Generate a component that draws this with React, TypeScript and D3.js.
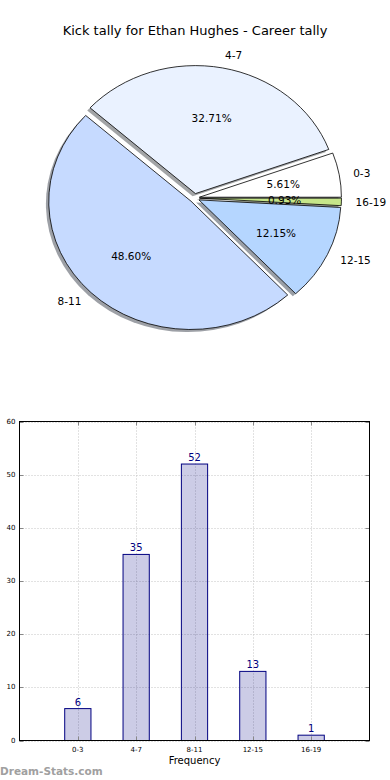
import React, { useRef, useEffect } from 'react';
import * as d3 from 'd3';

const title = 'Kick tally for Ethan Hughes - Career tally';
const categories = ['0-3', '4-7', '8-11', '12-15', '16-19'];
const counts = [6, 35, 52, 13, 1];
const sliceColors = ['#ffffff', '#eaf2ff', '#c6daff', '#b5d6ff', '#c6e68a'];
const yTicks = [0, 10, 20, 30, 40, 50, 60];

const FONT = '"DejaVu Sans", Verdana, sans-serif';

const App = () => {
    const ref = useRef<SVGSVGElement>(null);

    useEffect(() => {
        const svg = d3.select(ref.current);
        svg.selectAll('*').remove();

        svg.append('text')
            .attr('x', 195).attr('y', 35)
            .attr('text-anchor', 'middle')
            .style('font-family', FONT).style('font-size', '13px')
            .text(title);

        // ---- pie (elliptical, like matplotlib without axis equal)
        const cx = 194.5, cy = 198, rx = 142, ry = 128;
        const explode = 0.035;
        const total = d3.sum(counts);
        const pie = d3.pie<number>().sort(null).startAngle(Math.PI / 2).endAngle(Math.PI / 2 - 2 * Math.PI);
        const slices = pie(counts);
        const arc = d3.arc<any>().innerRadius(0).outerRadius(1);
        const mid = (s: any) => (s.startAngle + s.endAngle) / 2;

        const pieG = svg.append('g').attr('transform', `translate(${cx},${cy}) scale(${rx},${ry})`);
        // shadows first (below all wedges)
        pieG.selectAll('path.shadow')
            .data(slices)
            .join('path')
            .attr('class', 'shadow')
            .attr('transform', d => `translate(${explode * Math.sin(mid(d)) - 0.02},${-explode * Math.cos(mid(d)) + 0.02})`)
            .attr('d', arc)
            .attr('fill', (d, i) => {
                const c = d3.rgb(sliceColors[i]);
                return d3.rgb(c.r * 0.3, c.g * 0.3, c.b * 0.3).toString();
            })
            .attr('fill-opacity', 0.5);
        pieG.selectAll('path.wedge')
            .data(slices)
            .join('path')
            .attr('class', 'wedge')
            .attr('transform', d => `translate(${explode * Math.sin(mid(d))},${-explode * Math.cos(mid(d))})`)
            .attr('d', arc)
            .attr('fill', (d, i) => sliceColors[i])
            .attr('stroke', '#000')
            .attr('stroke-width', 0.8)
            .attr('vector-effect', 'non-scaling-stroke');

        svg.append('g').selectAll('text')
            .data(slices)
            .join('text')
            .attr('x', d => cx + rx * (explode + 1.1) * Math.sin(mid(d)))
            .attr('y', d => cy - ry * (explode + 1.1) * Math.cos(mid(d)))
            .attr('text-anchor', d => Math.sin(mid(d)) > 0 ? 'start' : 'end')
            .attr('dominant-baseline', 'central')
            .style('font-family', FONT).style('font-size', '10.5px')
            .text((d, i) => categories[i]);

        svg.append('g').selectAll('text')
            .data(slices)
            .join('text')
            .attr('x', d => cx + rx * (explode + 0.6) * Math.sin(mid(d)))
            .attr('y', d => cy - ry * (explode + 0.6) * Math.cos(mid(d)))
            .attr('text-anchor', 'middle')
            .attr('dominant-baseline', 'central')
            .style('font-family', FONT).style('font-size', '10.5px')
            .text(d => (d.data / total * 100).toFixed(2) + '%');

        // ---- bar chart
        const left = 19.5, right = 369.5, top = 421.5, bottom = 740.5;
        const x = d3.scaleLinear().domain([0, categories.length + 1]).range([left, right]);
        const y = d3.scaleLinear().domain([0, 60]).range([bottom, top]);
        const barW = 0.45;
        const bars = svg.append('g');

        // grid
        bars.append('g').selectAll('line')
            .data(yTicks)
            .join('line')
            .attr('x1', left).attr('x2', right)
            .attr('y1', d => Math.round(y(d)) + 0.5).attr('y2', d => Math.round(y(d)) + 0.5)
            .attr('stroke', '#c4c4c4').attr('stroke-dasharray', '1,2');
        bars.append('g').selectAll('line')
            .data(categories)
            .join('line')
            .attr('x1', (d, i) => Math.round(x(i + 1)) + 0.5).attr('x2', (d, i) => Math.round(x(i + 1)) + 0.5)
            .attr('y1', top).attr('y2', bottom)
            .attr('stroke', '#c4c4c4').attr('stroke-dasharray', '1,2');

        bars.append('g').selectAll('rect')
            .data(counts)
            .join('rect')
            .attr('x', (d, i) => x(i + 1 - barW / 2))
            .attr('y', d => y(d))
            .attr('width', x(barW) - x(0))
            .attr('height', d => y(0) - y(d))
            .attr('fill', 'rgba(0,0,128,0.2)')
            .attr('stroke', '#000080')
            .attr('stroke-width', 1);

        bars.append('g').selectAll('text')
            .data(counts)
            .join('text')
            .attr('x', (d, i) => x(i + 1))
            .attr('y', d => y(d) - 3)
            .attr('text-anchor', 'middle')
            .attr('fill', '#000080')
            .style('font-family', FONT).style('font-size', '10px')
            .text(d => d);

        // ticks inside, all four sides
        const tk = bars.append('g').attr('stroke', '#888');
        yTicks.forEach(t => {
            const yy = Math.round(y(t)) + 0.5;
            tk.append('line').attr('x1', left).attr('x2', left + 4).attr('y1', yy).attr('y2', yy);
            tk.append('line').attr('x1', right - 4).attr('x2', right).attr('y1', yy).attr('y2', yy);
        });
        categories.forEach((c, i) => {
            const xx = Math.round(x(i + 1)) + 0.5;
            tk.append('line').attr('x1', xx).attr('x2', xx).attr('y1', bottom).attr('y2', bottom - 4);
            tk.append('line').attr('x1', xx).attr('x2', xx).attr('y1', top).attr('y2', top + 4);
        });

        bars.append('rect')
            .attr('x', left).attr('y', top)
            .attr('width', right - left).attr('height', bottom - top)
            .attr('fill', 'none').attr('stroke', '#000').attr('stroke-width', 1);

        bars.append('g').selectAll('text')
            .data(yTicks)
            .join('text')
            .attr('x', left - 4)
            .attr('y', d => y(d))
            .attr('text-anchor', 'end')
            .attr('dominant-baseline', 'central')
            .style('font-family', FONT).style('font-size', '7px')
            .text(d => d);

        bars.append('g').selectAll('text')
            .data(categories)
            .join('text')
            .attr('x', (d, i) => x(i + 1))
            .attr('y', bottom + 11)
            .attr('text-anchor', 'middle')
            .style('font-family', FONT).style('font-size', '7px')
            .text(d => d);

        bars.append('text')
            .attr('x', (left + right) / 2).attr('y', 764)
            .attr('text-anchor', 'middle')
            .style('font-family', FONT).style('font-size', '10px')
            .text('Frequency');

        svg.append('text')
            .attr('x', 0).attr('y', 775)
            .attr('fill', '#a0a0a0')
            .style('font-family', FONT).style('font-size', '10.5px').style('font-weight', 'bold')
            .text('Dream-Stats.com');
    }, []);

    return (
        <div style={{ position: 'absolute', left: 0, top: 0, width: 390, height: 780, background: '#fff' }}>
            <svg ref={ref} width={390} height={780}></svg>
        </div>
    );
};

export default App;
